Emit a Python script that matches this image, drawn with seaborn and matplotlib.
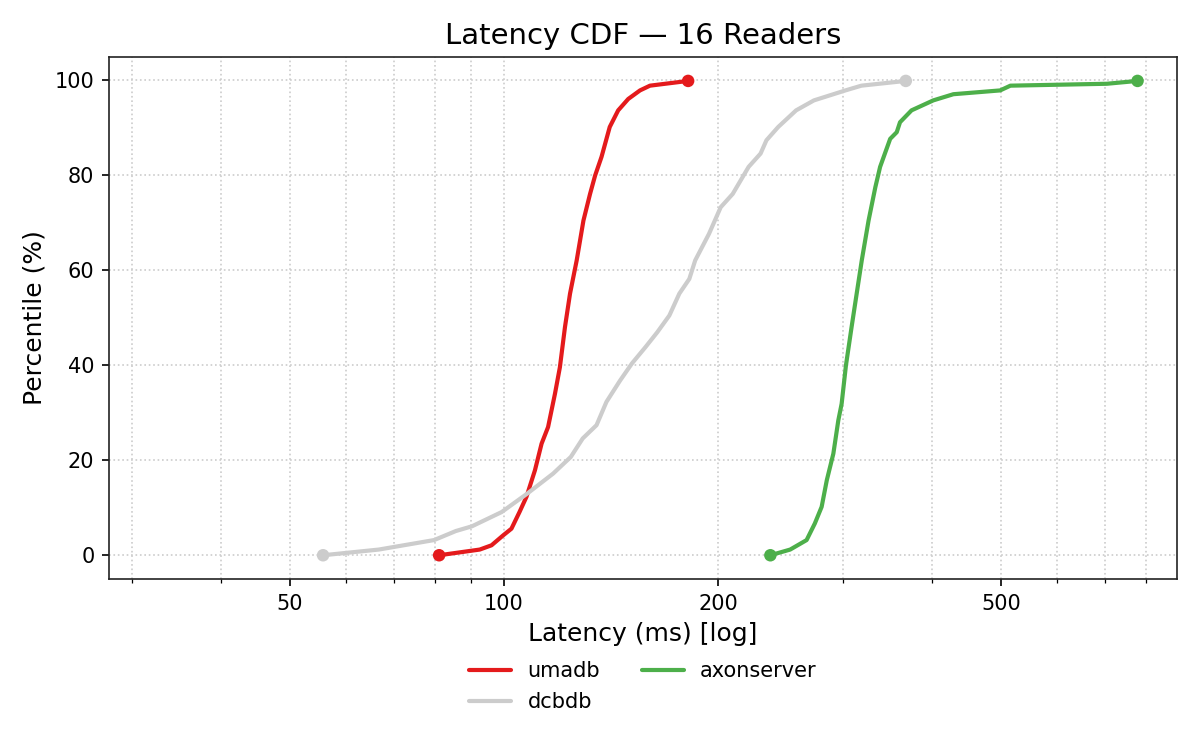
import numpy as np
import pandas as pd
import matplotlib
matplotlib.use("Agg")
import matplotlib.pyplot as plt
import seaborn as sns
from matplotlib.ticker import FixedLocator, NullFormatter, FuncFormatter, LogLocator

# ---- data ----
umadb_ms = [81.1, 92.5, 96.1, 99.8, 102.5, 105.2, 107.6, 110.6, 113.0, 115.4, 118.0,
            119.9, 121.9, 123.9, 126.6, 129.4, 132.2, 134.4, 137.2, 140.9, 144.8,
            149.6, 155.4, 160.5, 181.6]
umadb_pct = [0, 1.2, 2.1, 4.2, 5.6, 9.1, 12.3, 17.9, 23.5, 27.0, 34.0,
             39.6, 48.1, 55.1, 62.1, 70.5, 76.1, 80.0, 83.9, 90.2, 93.7,
             96.1, 97.9, 98.9, 99.9]

dcbdb_ms = [55.7, 66.7, 79.8, 85.6, 90.2, 99.3, 107.9, 117.3, 124.2, 129.1, 135.0,
            139.4, 145.7, 151.4, 158.3, 164.4, 170.9, 176.5, 182.3, 185.8, 194.3,
            201.8, 209.8, 220.9, 229.6, 234.0, 243.1, 257.6, 272.9, 302.2, 318.2, 367.4]
dcbdb_pct = [0, 1.2, 3.2, 5.1, 6.1, 9.1, 13.0, 17.2, 20.7, 24.6, 27.4,
             32.3, 36.8, 40.4, 43.9, 47.0, 50.5, 55.1, 58.2, 62.1, 67.7,
             73.3, 76.1, 81.8, 84.6, 87.4, 90.2, 93.7, 95.8, 97.9, 98.9, 99.9]

axon_ms = [237, 252.7, 266.5, 273.7, 279.8, 284.5, 290.6, 295.3, 298.5, 302.7,
           308.3, 313.4, 318.6, 325.7, 332.9, 338.1, 349.3, 356.8, 360.6, 374.3,
           401.6, 428.6, 498.7, 515.5, 704.4, 778]
axon_pct = [0, 1.2, 3.2, 6.7, 10.2, 15.8, 21.4, 28.4, 31.9, 40,
            48.1, 55.1, 62.1, 70.5, 77.5, 81.8, 87.7, 89.1, 91.2, 93.7,
            95.8, 97.1, 97.9, 98.9, 99.3, 99.9]

systems = ["umadb", "dcbdb", "axonserver"]
colors = {"umadb": "#e41a1c", "dcbdb": "#cccccc", "axonserver": "#4daf4a"}
x_ticks = [50, 100, 200, 500]
y_ticks = [0, 20, 40, 60, 80, 100]

series = {"umadb": (umadb_ms, umadb_pct),
          "dcbdb": (dcbdb_ms, dcbdb_pct),
          "axonserver": (axon_ms, axon_pct)}

rows = []
for name in systems:
    ms, pct = series[name]
    for i, (m, p) in enumerate(zip(ms, pct)):
        rows.append({"system": name, "latency": m, "pct": p, "order": i})
df = pd.DataFrame(rows)
ends = pd.concat([df[df.system == s].iloc[[0, -1]] for s in systems])

# ---- plot ----
sns.set_style("ticks")
plt.rcParams["font.family"] = ["DejaVu Sans"]
plt.rcParams["axes.edgecolor"] = "#222222"
plt.rcParams["text.color"] = "black"
plt.rcParams["axes.labelcolor"] = "black"
plt.rcParams["xtick.color"] = "black"
plt.rcParams["ytick.color"] = "black"

fig, ax = plt.subplots(figsize=(8, 5), dpi=150)
fig.subplots_adjust(left=0.0908, right=0.981, top=0.9244, bottom=0.228)

sns.lineplot(data=df, x="latency", y="pct", hue="system", hue_order=systems,
             palette=colors, sort=False, estimator=None, linewidth=2, ax=ax)
sns.scatterplot(data=ends, x="latency", y="pct", hue="system", hue_order=systems,
                palette=colors, s=36, linewidth=0, legend=False, ax=ax, zorder=3)

ax.set_xscale("log")
all_ms = umadb_ms + dcbdb_ms + axon_ms
ax.set_xlim(min(all_ms) * 0.5, max(all_ms) * 1.137)
ax.set_ylim(-5, 105)
ax.xaxis.set_major_locator(FixedLocator(x_ticks))
ax.xaxis.set_major_formatter(FuncFormatter(lambda v, p: f"{v:g}"))
ax.xaxis.set_minor_locator(LogLocator(base=10, subs=np.arange(2, 10)))
ax.xaxis.set_minor_formatter(NullFormatter())
ax.set_yticks(y_ticks)
ax.tick_params(axis="both", which="major", labelsize=10, length=3.5, width=0.8)
ax.tick_params(axis="x", which="minor", length=2, width=0.6)
for sp in ax.spines.values():
    sp.set_linewidth(0.8)

ax.grid(True, which="both", axis="x", linestyle=":", color="#cccccc", linewidth=0.8)
ax.grid(True, which="major", axis="y", linestyle=":", color="#cccccc", linewidth=0.8)
ax.set_axisbelow(True)

ax.set_title("Latency CDF — 16 Readers", fontsize=14)
ax.set_xlabel("Latency (ms) [log]", fontsize=12)
ax.set_ylabel("Percentile (%)", fontsize=12)

handles, labels = ax.get_legend_handles_labels()
ax.legend(handles, labels, loc="upper center", bbox_to_anchor=(0.5, -0.122),
          ncol=2, frameon=False, fontsize=10, columnspacing=2.0)

fig.savefig("out.png", dpi=150)
